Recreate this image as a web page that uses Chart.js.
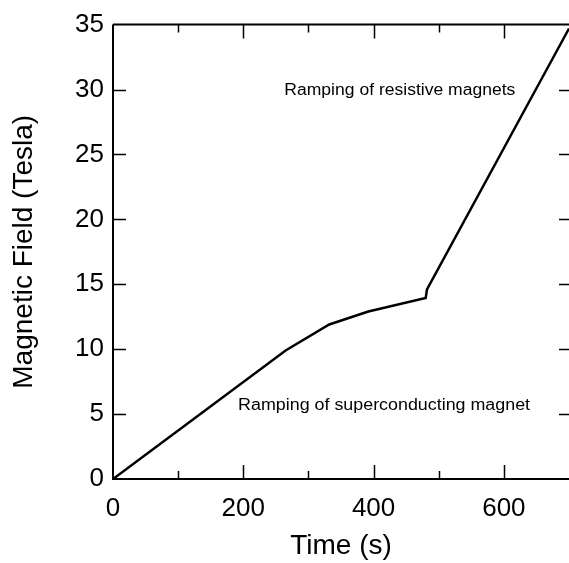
<!DOCTYPE html>
<html>
<head>
<meta charset="utf-8">
<script src="https://cdn.jsdelivr.net/npm/chart.js@4/dist/chart.umd.min.js"></script>
<style>
  body { margin: 0; background: #fff; }
</style>
</head>
<body>
<canvas id="fieldChart" width="569" height="563"></canvas>
<script>
// field ramp
const timeS = [0, 265, 332, 392, 480, 482, 700];
const fieldT = [0, 9.9, 11.9, 12.9, 13.95, 14.6, 34.7];
const xTickLabels = [0, 200, 400, 600];
const notes = [
    { text: 'Ramping of resistive magnets', x: 263, y: 29.6, width: 231 },
    { text: 'Ramping of superconducting magnet', x: 192, y: 5.3, width: 292 }
];

const FONT = 'Liberation Sans, Arial, Helvetica, sans-serif';

// frame with inward ticks on all sides, plus the text notes
const framePlugin = {
    id: 'frame',
    afterDraw(chart) {
        const c = chart.ctx;
        const a = chart.chartArea;
        const xs = chart.scales.x;
        const ys = chart.scales.y;
        c.save();
        c.strokeStyle = '#000';
        c.lineWidth = 2;
        c.beginPath();
        c.moveTo(a.left, a.top);
        c.lineTo(a.right, a.top);
        c.moveTo(a.left, a.top);
        c.lineTo(a.left, a.bottom);
        c.lineTo(a.right, a.bottom);
        c.stroke();

        c.lineWidth = 1.5;
        c.beginPath();
        for (let v = 100; v < 700; v += 100) {
            const px = Math.round(xs.getPixelForValue(v)) + 0.5;
            const len = v % 200 === 0 ? 14 : 8;
            c.moveTo(px, a.bottom);
            c.lineTo(px, a.bottom - len);
            c.moveTo(px, a.top);
            c.lineTo(px, a.top + len);
        }
        for (let v = 5; v < 35; v += 5) {
            const py = Math.round(ys.getPixelForValue(v)) + 0.5;
            c.moveTo(a.left, py);
            c.lineTo(a.left + 13, py);
            c.moveTo(a.right, py);
            c.lineTo(a.right - 10, py);
        }
        c.stroke();

        c.fillStyle = '#000';
        c.font = '16px ' + FONT;
        c.textBaseline = 'alphabetic';
        notes.forEach(n => {
            const px = xs.getPixelForValue(n.x);
            const py = ys.getPixelForValue(n.y);
            const w = c.measureText(n.text).width;
            c.save();
            c.translate(px, py);
            c.scale(n.width / w, 1);
            c.fillText(n.text, 0, 0);
            c.restore();
        });
        c.restore();
    }
};

new Chart(document.getElementById('fieldChart'), {
    type: 'line',
    data: {
        datasets: [{
            data: timeS.map((t, i) => ({ x: t, y: fieldT[i] })),
            borderColor: '#000',
            borderWidth: 2.5,
            pointRadius: 0,
            tension: 0,
            fill: false
        }]
    },
    options: {
        responsive: false,
        animation: false,
        layout: { padding: { top: 24, right: 0 } },
        plugins: { legend: { display: false }, tooltip: { enabled: false } },
        scales: {
            x: {
                type: 'linear',
                min: 0,
                max: 700,
                afterFit(s) { s.height = 84; s.paddingLeft = 0; s.paddingRight = 0; },
                grid: { display: false, drawTicks: false },
                border: { display: false },
                ticks: {
                    stepSize: 100,
                    padding: 14,
                    color: '#000',
                    font: { family: FONT, size: 26 },
                    maxRotation: 0,
                    autoSkip: false,
                    callback: v => xTickLabels.includes(v) ? String(v) : ''
                },
                title: {
                    display: true,
                    text: 'Time (s)',
                    color: '#000',
                    font: { family: FONT, size: 28 },
                    padding: { top: 0, bottom: 0 }
                }
            },
            y: {
                min: 0,
                max: 35,
                afterFit(s) { s.width = 113; },
                grid: { display: false, drawTicks: false },
                border: { display: false },
                ticks: {
                    stepSize: 5,
                    padding: 9,
                    color: '#000',
                    font: { family: FONT, size: 26 }
                },
                title: {
                    display: true,
                    text: 'Magnetic Field (Tesla)',
                    color: '#000',
                    font: { family: FONT, size: 28 },
                    padding: { top: 7, bottom: 0 }
                }
            }
        }
    },
    plugins: [framePlugin]
});
</script>
</body>
</html>
